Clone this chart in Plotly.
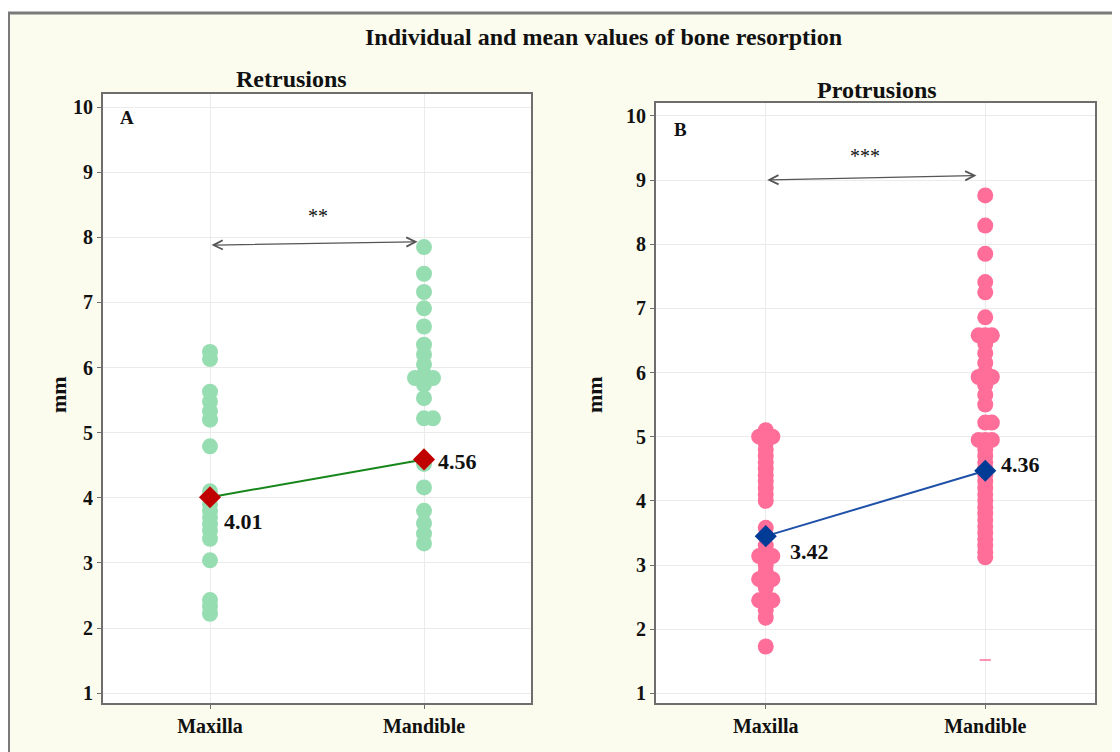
import plotly.graph_objects as go

# page has an 8px body margin: figure spans page px 8..1120, 8..752
OFF = 8
W, H = 1120 - OFF, 752 - OFF

categories = ["Maxilla", "Mandible"]
y_ticks = [1, 2, 3, 4, 5, 6, 7, 8, 9, 10]

ret_maxilla = [6.24, 6.13, 5.63, 5.48, 5.33, 5.2, 4.79, 4.1, 3.9, 3.8, 3.7, 3.6,
               3.5, 3.37, 3.04, 2.43, 2.33, 2.22]
ret_mandible = [7.85, 7.44, 7.16, 6.91, 6.63, 6.35, 6.2, 6.05, 5.9, 5.84, 5.84, 5.84,
                5.74, 5.53, 5.22, 5.22, 4.52, 4.16, 3.8, 3.61, 3.45, 3.3]
pro_maxilla = [5.1, 5.0, 5.0, 5.0, 4.9, 4.8, 4.7, 4.6, 4.5, 4.4, 4.3, 4.2, 4.1, 4.0,
               3.58, 3.45, 3.3, 3.14, 3.14, 3.14, 3.0, 2.9, 2.78, 2.78, 2.78, 2.65,
               2.45, 2.45, 2.45, 2.3, 2.18, 1.73]
pro_mandible = [8.76, 8.29, 7.85, 7.41, 7.25, 6.86, 6.58, 6.58, 6.58, 6.45, 6.3, 6.15,
                6.0, 5.93, 5.93, 5.93, 5.8, 5.65, 5.5, 5.22, 5.22, 4.95, 4.95, 4.95,
                4.8, 4.7, 4.6, 4.5, 4.4, 4.3, 4.2, 4.1, 4.0, 3.9, 3.8, 3.7, 3.6, 3.5,
                3.4, 3.3, 3.2, 3.12]
pro_mandible_tick = [1.52]

ret_means = [4.01, 4.59]
ret_mean_labels = ["4.01", "4.56"]
pro_means = [3.45, 4.47]
pro_mean_labels = ["3.42", "4.36"]

ret_sig = "**"
pro_sig = "***"

GREEN_DOT = "#97DDB2"
PINK_DOT = "#FF6D99"
SERIF = "Liberation Serif, Times New Roman, serif"


def px(x):
    return (x - OFF) / W


def py(y):
    return 1 - (y - OFF) / H


def swarm(values, cat, d=0.045):
    """Place repeated values side by side around the category centre."""
    xs = []
    seen = {}
    for v in values:
        k = seen.get(v, 0)
        seen[v] = k + 1
        off = 0 if k == 0 else (d if k % 2 == 1 else -d) * ((k + 1) // 2)
        xs.append(cat + off)
    return xs


fig = go.Figure()

panels = [
    dict(xa="x", ya="y", maxv=ret_maxilla, manv=ret_mandible, dot=GREEN_DOT, d=0.042,
         means=ret_means, line="#17861A", mk="#C00000"),
    dict(xa="x2", ya="y2", maxv=pro_maxilla, manv=pro_mandible, dot=PINK_DOT, d=0.03,
         means=pro_means, line="#1F50A8", mk="#003C96"),
]

for p in panels:
    for ci, vals in enumerate([p["maxv"], p["manv"]]):
        fig.add_trace(go.Scatter(
            x=swarm(vals, ci + 1, p["d"]), y=vals, mode="markers",
            xaxis=p["xa"], yaxis=p["ya"],
            marker=dict(color=p["dot"], size=16, line=dict(width=0)),
            hoverinfo="y", showlegend=False))
    fig.add_trace(go.Scatter(
        x=[1, 2], y=p["means"], mode="lines+markers", xaxis=p["xa"], yaxis=p["ya"],
        line=dict(color=p["line"], width=2),
        marker=dict(symbol="diamond", size=17, color=p["mk"], line=dict(width=0)),
        showlegend=False))

fig.add_trace(go.Scatter(
    x=[2] * len(pro_mandible_tick), y=pro_mandible_tick, mode="markers",
    xaxis="x2", yaxis="y2",
    marker=dict(symbol="line-ew", size=8, line=dict(color=PINK_DOT, width=1.5)),
    showlegend=False))

axis_common = dict(
    showline=True, linecolor="#6E6E6E", linewidth=2, mirror=True,
    showgrid=True, gridcolor="#EBEBEB", gridwidth=1, zeroline=False,
    ticks="outside", ticklen=4, tickcolor="#6E6E6E", tickwidth=1,
    tickfont=dict(family=SERIF, size=20, color="#111111"),
)

xdom1 = [px(103), px(531)]
xdom2 = [px(656), px(1095)]
ydom1 = [py(703), py(94)]
ydom2 = [py(703), py(103)]

fig.update_layout(
    width=W, height=H,
    margin=dict(l=0, r=0, t=0, b=0),
    paper_bgcolor="white", plot_bgcolor="white",
    font=dict(family=SERIF, color="#111111"),
    xaxis=dict(domain=xdom1, range=[0.5, 2.5], tickvals=[1, 2],
               ticktext=["<b>%s</b>" % c for c in categories], anchor="y", **axis_common),
    yaxis=dict(domain=ydom1, range=[0.85, 10.2], tickvals=y_ticks,
               ticktext=["<b>%d</b>" % t for t in y_ticks], anchor="x", **axis_common),
    xaxis2=dict(domain=xdom2, range=[0.5, 2.5], tickvals=[1, 2],
                ticktext=["<b>%s</b>" % c for c in categories], anchor="y2", **axis_common),
    yaxis2=dict(domain=ydom2, range=[0.85, 10.2], tickvals=y_ticks,
                ticktext=["<b>%d</b>" % t for t in y_ticks], anchor="x2", **axis_common),
)

# outer frame, then white plot panels on top of it
fig.add_shape(type="rect", xref="paper", yref="paper",
              x0=px(8.5), x1=1.05, y0=-0.05, y1=py(13),
              fillcolor="#FBFBEE", line=dict(color="#7A7A7A", width=3), layer="below")
for xd, yd in [(xdom1, ydom1), (xdom2, ydom2)]:
    fig.add_shape(type="rect", xref="paper", yref="paper",
                  x0=xd[0], x1=xd[1], y0=yd[0], y1=yd[1],
                  fillcolor="white", line=dict(width=0), layer="below")

ann = []


def txt(x, y, s, size, xref="paper", yref="paper", **kw):
    d = dict(x=x, y=y, xref=xref, yref=yref, text=s, showarrow=False,
             xanchor="center", yanchor="middle",
             font=dict(family=SERIF, size=size, color="#111111"))
    d.update(kw)
    ann.append(d)


txt(px(603), py(37), "<b>Individual and mean values of bone resorption</b>", 24)
txt(px(291), py(79), "<b>Retrusions</b>", 24)
txt(px(877), py(90), "<b>Protrusions</b>", 24)
txt(px(58), py(395), "<b>mm</b>", 22, textangle=-90)
txt(px(594), py(395), "<b>mm</b>", 22, textangle=-90)
txt(px(127), py(118), "<b>A</b>", 19)
txt(px(680), py(130), "<b>B</b>", 19)

# mean labels
txt(1, ret_means[0], "<b>%s</b>" % ret_mean_labels[0], 22, xref="x", yref="y",
    xanchor="left", xshift=12, yshift=-24)
txt(2, ret_means[1], "<b>%s</b>" % ret_mean_labels[1], 22, xref="x", yref="y",
    xanchor="left", xshift=12, yshift=-2)
txt(1, pro_means[0], "<b>%s</b>" % pro_mean_labels[0], 22, xref="x2", yref="y2",
    xanchor="left", xshift=22, yshift=-15)
txt(2, pro_means[1], "<b>%s</b>" % pro_mean_labels[1], 22, xref="x2", yref="y2",
    xanchor="left", xshift=14, yshift=6)

# significance
txt(1.505, 8.32, ret_sig, 20, xref="x", yref="y")
txt(1.45, 9.38, pro_sig, 20, xref="x2", yref="y2")

for xr, yr, x0, y0, x1, y1 in [("x", "y", 1.0, 7.88, 1.97, 7.93),
                               ("x2", "y2", 1.0, 9.0, 1.96, 9.07)]:
    ann.append(dict(x=x1, y=y1, ax=x0, ay=y0, xref=xr, yref=yr, axref=xr, ayref=yr,
                    text="", showarrow=True, arrowhead=5, startarrowhead=5,
                    arrowside="end+start", arrowsize=1.4, startarrowsize=1.4,
                    arrowwidth=1.3, arrowcolor="#555555", standoff=0, startstandoff=0))

fig.update_layout(annotations=ann)

fig.write_html("out.html")
